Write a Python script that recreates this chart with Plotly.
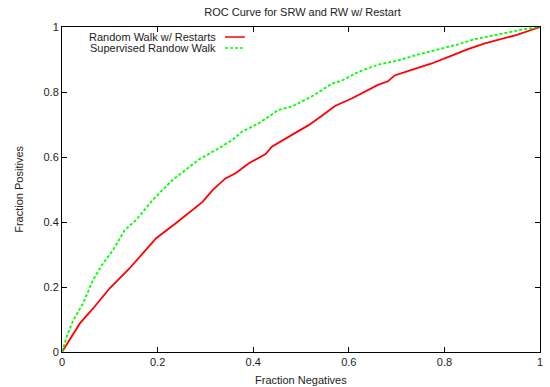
import plotly.graph_objects as go

# Random Walk w/ Restarts (red)
rw_x = [0.0, 0.0374, 0.065, 0.0998, 0.141, 0.197, 0.238, 0.294, 0.315, 0.342, 0.363, 0.391,
        0.426, 0.439, 0.481, 0.516, 0.543, 0.571, 0.606, 0.633, 0.661, 0.682, 0.696, 0.730,
        0.772, 0.814, 0.848, 0.883, 0.917, 0.952, 0.980, 1.0]
rw_y = [0.0, 0.088, 0.134, 0.196, 0.257, 0.350, 0.396, 0.462, 0.498, 0.534, 0.550, 0.581,
        0.609, 0.632, 0.668, 0.698, 0.726, 0.757, 0.780, 0.801, 0.822, 0.833, 0.851, 0.867,
        0.887, 0.911, 0.931, 0.949, 0.962, 0.976, 0.990, 1.0]

# Supervised Random Walk (green)
srw_x = [0.0, 0.0097, 0.0236, 0.0443, 0.065, 0.086, 0.107, 0.131, 0.155, 0.190, 0.231,
         0.287, 0.328, 0.356, 0.377, 0.412, 0.453, 0.481, 0.522, 0.564, 0.588, 0.620,
         0.661, 0.703, 0.744, 0.786, 0.827, 0.862, 0.897, 0.931, 0.966, 1.0]
srw_y = [0.0, 0.047, 0.098, 0.150, 0.222, 0.273, 0.314, 0.375, 0.406, 0.468, 0.529,
         0.593, 0.627, 0.652, 0.678, 0.704, 0.745, 0.755, 0.786, 0.825, 0.837, 0.862,
         0.884, 0.897, 0.915, 0.931, 0.946, 0.962, 0.972, 0.982, 0.993, 1.0]

tick_vals = [0, 0.2, 0.4, 0.6, 0.8, 1]
tick_text = ["0", "0.2", "0.4", "0.6", "0.8", "1"]

FONT = "Liberation Sans, Arial, sans-serif"

fig = go.Figure()
fig.add_trace(go.Scatter(x=rw_x, y=rw_y, mode="lines", name="Random Walk w/ Restarts",
                         line=dict(color="#ff0000", width=1.8), showlegend=False))
fig.add_trace(go.Scatter(x=srw_x, y=srw_y, mode="lines", name="Supervised Randow Walk",
                         line=dict(color="#00ff00", width=1.8, dash="3px,2px"), showlegend=False))

W, H = 550, 387
L, R, T, B = 62, 7, 27, 35
pw, ph = W - L - R, H - T - B

def px_x(p):
    return (p - L) / pw

def px_y(p):
    return (H - B - p) / ph

axis_common = dict(range=[0, 1], tickvals=tick_vals, ticktext=tick_text, ticks="inside",
                   ticklen=5, tickcolor="black", showline=True, linecolor="black", linewidth=1,
                   mirror="allticks", showgrid=False, zeroline=False,
                   tickfont=dict(family=FONT, size=11, color="#222"))

fig.update_layout(
    width=W, height=H,
    margin=dict(l=L, r=R, t=T, b=B),
    plot_bgcolor="white", paper_bgcolor="white",
    title=dict(text="ROC Curve for SRW and RW w/ Restart", x=(L + pw / 2) / W,
               xanchor="center", y=1 - 12 / H, yanchor="middle",
               font=dict(family=FONT, size=11, color="#222")),
    xaxis=dict(**axis_common),
    yaxis=dict(**axis_common),
    showlegend=False,
)

annots = [
    dict(text="Fraction Negatives", x=0.5, y=px_y(380), xref="paper", yref="paper",
         showarrow=False, xanchor="center", yanchor="middle",
         font=dict(family=FONT, size=11, color="#222")),
    dict(text="Fraction Positives", x=px_x(18), y=0.5, xref="paper", yref="paper",
         showarrow=False, xanchor="center", yanchor="middle", textangle=-90,
         font=dict(family=FONT, size=11, color="#222")),
    dict(text="Random Walk w/ Restarts", x=px_x(219), y=px_y(37), xref="paper", yref="paper",
         showarrow=False, xanchor="right", yanchor="middle",
         font=dict(family=FONT, size=11, color="#222")),
    dict(text="Supervised Randow Walk", x=px_x(219), y=px_y(48), xref="paper", yref="paper",
         showarrow=False, xanchor="right", yanchor="middle",
         font=dict(family=FONT, size=11, color="#222")),
]
fig.update_layout(annotations=annots)

fig.add_shape(type="line", xref="paper", yref="paper", x0=px_x(226), x1=px_x(246),
              y0=px_y(37), y1=px_y(37), line=dict(color="#ff0000", width=1.5))
fig.add_shape(type="line", xref="paper", yref="paper", x0=px_x(226), x1=px_x(246),
              y0=px_y(48), y1=px_y(48), line=dict(color="#00ff00", width=1.5, dash="3px,2px"))

fig.write_html("out.html", config={"displayModeBar": False},
               post_script="document.body.style.margin='0';")
